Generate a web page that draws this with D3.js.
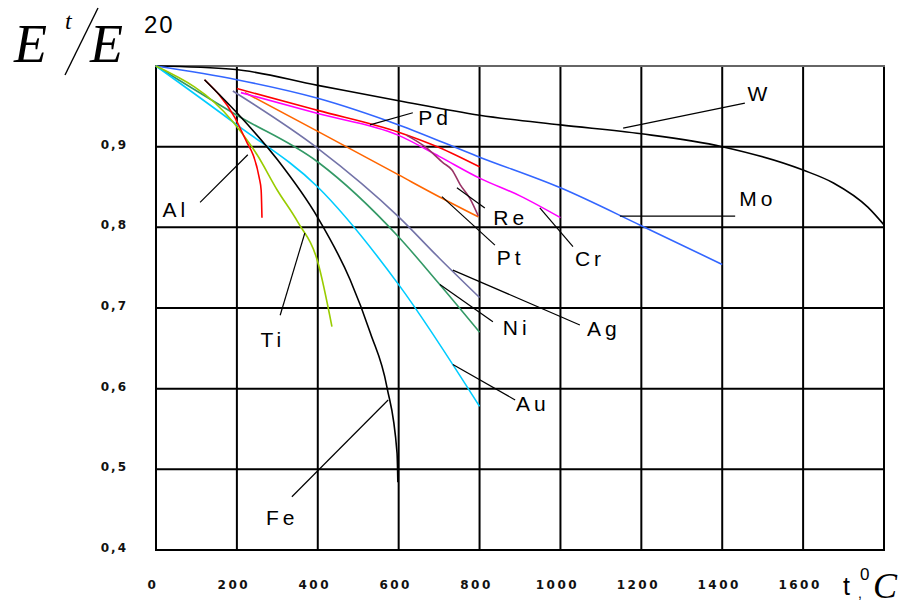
<!DOCTYPE html>
<html>
<head>
<meta charset="utf-8">
<script src="https://cdn.jsdelivr.net/npm/d3@7"></script>
<style>
  body { margin: 0; background: #fff; }
  svg { display: block; }
</style>
</head>
<body>
<div id="chart"></div>
<script>
// temperature ticks and ratio ticks
const xTicks = [0, 200, 400, 600, 800, 1000, 1200, 1400, 1600];
const yTicks = [0.4, 0.5, 0.6, 0.7, 0.8, 0.9];
const yTickLabels = ['0,4', '0,5', '0,6', '0,7', '0,8', '0,9'];

// curves: [t, E/E20]
const W  = [[0, 1], [190, 0.996], [400, 0.976], [600, 0.957], [800, 0.939], [1000, 0.927], [1200, 0.916], [1400, 0.9], [1600, 0.871], [1675, 0.855], [1760, 0.825], [1800, 0.803]];
const Mo = [[0, 1], [200, 0.983], [400, 0.96], [600, 0.927], [800, 0.887], [1000, 0.849], [1200, 0.802], [1400, 0.754]];
const Pd = [[200, 0.972], [400, 0.945], [600, 0.918], [700, 0.899], [800, 0.875]];
const Cr = [[210, 0.967], [400, 0.941], [600, 0.914], [700, 0.888], [800, 0.861], [900, 0.839], [1000, 0.812]];
const Re = [[620, 0.914], [665, 0.9], [710, 0.88], [732, 0.871], [752, 0.853], [776, 0.836], [797, 0.814]];
const Pt = [[220, 0.967], [400, 0.919], [600, 0.865], [700, 0.838], [797, 0.813]];
const Ag = [[190, 0.969], [400, 0.898], [600, 0.813], [700, 0.762], [800, 0.713]];
const Ni = [[0, 1], [200, 0.939], [400, 0.881], [600, 0.788], [700, 0.73], [800, 0.67]];
const Au = [[0, 1], [200, 0.927], [400, 0.85], [600, 0.729], [800, 0.578]];
const Ti = [[0, 1], [190, 0.931], [250, 0.89], [300, 0.846], [350, 0.807], [400, 0.757], [435, 0.677]];
const Al = [[120, 0.983], [195, 0.936], [225, 0.905], [240, 0.89], [255, 0.862], [260, 0.846], [262, 0.812]];
const Fe = [[120, 0.983], [200, 0.942], [300, 0.884], [400, 0.812], [480, 0.735], [530, 0.669], [571, 0.602], [596, 0.52], [598, 0.484]];

const series = [
  { name: 'W',  data: W,  color: '#000000' },
  { name: 'Mo', data: Mo, color: '#3366ff' },
  { name: 'Ag', data: Ag, color: '#7373a8' },
  { name: 'Ni', data: Ni, color: '#339966' },
  { name: 'Au', data: Au, color: '#00ccff' },
  { name: 'Ti', data: Ti, color: '#99cc00' },
  { name: 'Pt', data: Pt, color: '#ff6600' },
  { name: 'Cr', data: Cr, color: '#ff00ff' },
  { name: 'Pd', data: Pd, color: '#ff0000' },
  { name: 'Re', data: Re, color: '#993366' },
  { name: 'Al', data: Al, color: '#ff0000' },
  { name: 'Fe', data: Fe, color: '#000000' }
];

// label: leader start, leader end, text centre (all in data units)
const labels = [
  { text: 'W',  from: [1155, 0.923], to: [1456, 0.954], at: [1492, 0.966] },
  { text: 'Mo', from: [1147, 0.814], to: [1432, 0.814], at: [1488, 0.836] },
  { text: 'Pd', from: [529, 0.927],  to: [635, 0.942],  at: [690, 0.936] },
  { text: 'Re', from: [744, 0.849],  to: [813, 0.824],  at: [877, 0.812] },
  { text: 'Pt', from: [707, 0.838],  to: [838, 0.778],  at: [877, 0.762] },
  { text: 'Cr', from: [949, 0.824],  to: [1031, 0.776], at: [1073, 0.761] },
  { text: 'Ag', from: [734, 0.747],  to: [1048, 0.679], at: [1107, 0.674] },
  { text: 'Ni', from: [702, 0.729],  to: [833, 0.683],  at: [892, 0.676] },
  { text: 'Au', from: [734, 0.63],   to: [888, 0.586],  at: [932, 0.581] },
  { text: 'Ti', from: [368, 0.793],  to: [307, 0.691],  at: [289, 0.661] },
  { text: 'Al', from: [227, 0.89],   to: [109, 0.831],  at: [49, 0.822] },
  { text: 'Fe', from: [574, 0.586],  to: [336, 0.466],  at: [312, 0.44] }
];

const width = 916, height = 607;
const x = d3.scaleLinear().domain([0, 1800]).range([156, 884]);
const y = d3.scaleLinear().domain([0.4, 1.0]).range([550, 66]);

const svg = d3.select('#chart').append('svg')
  .attr('width', width)
  .attr('height', height)
  .style('background', '#fff');

// grid
const grid = svg.append('g');
d3.range(0, 1801, 200).forEach(t => {
  grid.append('line')
    .attr('x1', x(t)).attr('x2', x(t))
    .attr('y1', y(1.0)).attr('y2', y(0.4))
    .attr('stroke', '#000').attr('stroke-width', 2);
});
d3.range(4, 11).forEach(k => {
  grid.append('line')
    .attr('x1', x(0) - 1).attr('x2', x(1800) + 1)
    .attr('y1', y(k / 10)).attr('y2', y(k / 10))
    .attr('stroke', k === 10 ? '#666' : '#000').attr('stroke-width', 2);
});

// tick labels
svg.append('g').selectAll('text')
  .data(xTicks)
  .join('text')
  .attr('x', d => x(d) - 3)
  .attr('y', 589)
  .attr('text-anchor', 'middle')
  .attr('font-family', 'DejaVu Sans')
  .attr('font-weight', 'bold')
  .attr('font-size', '12px')
  .attr('letter-spacing', '2.5px')
  .attr('fill', '#111')
  .text(d => d);

svg.append('g').selectAll('text')
  .data(yTicks)
  .join('text')
  .attr('x', 128)
  .attr('y', (d, i) => y(d) + 2)
  .attr('text-anchor', 'end')
  .attr('font-family', 'DejaVu Sans')
  .attr('font-weight', 'bold')
  .attr('font-size', '12px')
  .attr('letter-spacing', '2px')
  .attr('fill', '#111')
  .text((d, i) => yTickLabels[i]);

// curves
const line = d3.line()
  .x(d => x(d[0]))
  .y(d => y(d[1]))
  .curve(d3.curveMonotoneX);

svg.append('g').selectAll('path')
  .data(series)
  .join('path')
  .attr('d', d => line(d.data))
  .attr('fill', 'none')
  .attr('stroke', d => d.color)
  .attr('stroke-width', 1.6);

// leaders and element names
const ann = svg.append('g');
labels.forEach(l => {
  ann.append('line')
    .attr('x1', x(l.from[0])).attr('y1', y(l.from[1]))
    .attr('x2', x(l.to[0])).attr('y2', y(l.to[1]))
    .attr('stroke', '#000').attr('stroke-width', 1.2);
  ann.append('text')
    .attr('x', x(l.at[0]))
    .attr('y', y(l.at[1]))
    .attr('dy', '0.35em')
    .attr('text-anchor', 'middle')
    .attr('font-family', 'Liberation Sans')
    .attr('font-size', '21px')
    .attr('letter-spacing', '4px')
    .attr('fill', '#000')
    .text(l.text);
});

// axis titles
const title = svg.append('g').attr('fill', '#000');
title.append('text')
  .attr('x', 14).attr('y', 62)
  .attr('font-family', 'Liberation Serif')
  .attr('font-style', 'italic')
  .attr('font-size', '54px')
  .text('E');
title.append('text')
  .attr('x', 65).attr('y', 29)
  .attr('font-family', 'Liberation Serif')
  .attr('font-style', 'italic')
  .attr('font-size', '24px')
  .text('t');
title.append('line')
  .attr('x1', 65).attr('y1', 75)
  .attr('x2', 98).attr('y2', 8)
  .attr('stroke', '#000').attr('stroke-width', 1.4);
title.append('text')
  .attr('x', 90).attr('y', 62)
  .attr('font-family', 'Liberation Serif')
  .attr('font-style', 'italic')
  .attr('font-size', '54px')
  .text('E');
title.append('text')
  .attr('x', 144).attr('y', 33)
  .attr('font-family', 'Liberation Sans')
  .attr('font-size', '24px')
  .attr('letter-spacing', '2px')
  .text('20');

title.append('text')
  .attr('x', 843).attr('y', 595)
  .attr('font-family', 'Liberation Sans')
  .attr('font-size', '25px')
  .text('t');
title.append('text')
  .attr('x', 858).attr('y', 598)
  .attr('font-family', 'Liberation Sans')
  .attr('font-size', '14px')
  .text(',');
title.append('text')
  .attr('x', 860).attr('y', 580)
  .attr('font-family', 'Liberation Sans')
  .attr('font-size', '17px')
  .text('0');
title.append('text')
  .attr('x', 873).attr('y', 598)
  .attr('font-family', 'Liberation Serif')
  .attr('font-style', 'italic')
  .attr('font-size', '36px')
  .text('C');
</script>
</body>
</html>
